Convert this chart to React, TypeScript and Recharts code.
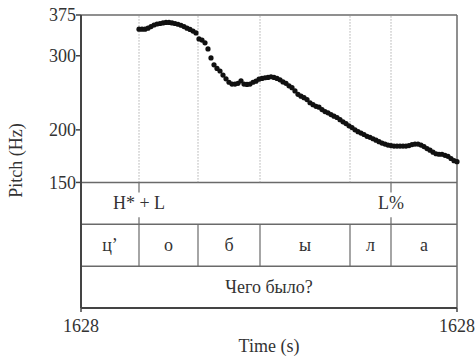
import React from 'react';
import { ComposedChart, Scatter, XAxis, YAxis, ReferenceLine, Label } from 'recharts';

// pitch track: frames every 7.5 ms, first voiced frame at 0.145 s
const pitchStart = 0.145;
const pitchStep = 0.0075;
const pitchHz = [
  347, 347, 347, 349, 352, 355, 357, 358, 359, 360, 360, 359, 358, 356.5, 354.5, 352, 349, 346.5, 343.5, 340,
  329, 327, 322, 311.5, 296.5, 285.5, 280, 276, 270, 264.5, 259.5, 257, 257, 258, 261.5, 257, 256.5, 257, 259.5, 261,
  264, 265, 266, 266.5, 267.5, 266.5, 265, 263, 260, 258, 254.5, 252, 247.5, 243, 240.5, 238.5, 236, 232, 229.5, 227.5,
  226.5, 223.5, 221, 219.5, 217.5, 215.5, 214, 211.5, 209, 207, 204.5, 202.5, 200, 198, 196.5, 195, 193, 192, 190.5, 189,
  187.5, 186, 185, 184, 183.5, 183, 183, 183, 183, 183, 183.5, 184.5, 185, 185, 184, 182.5, 180.5, 179, 177, 175.5,
  175, 175, 174, 173, 171, 169, 168,
];

const duration = 0.94;
const xTickLabels = ['1628', '1628'];
const pitchTicks = [150, 200, 300, 375];

// segment tier
const segEdges = [0, 0.145, 0.2925, 0.4475, 0.6725, 0.775, 0.94];
const segLabels = ['ц’', 'о', 'б', 'ы', 'л', 'а'];
// tone tier
const toneTimes = [0.145, 0.775];
const toneLabels = ['H* + L', 'L%'];
// word tier
const wordLabel = 'Чего было?';

// tier axis: rows 0-1 words, 1-2 segments, 2-3 tones, 3-7 pitch panel
const PITCH_MIN = 150;
const PITCH_MAX = 375;
const logLow = PITCH_MAX / Math.pow(PITCH_MAX / PITCH_MIN, 7 / 4);

const pitchData = pitchHz.map((v, i) => ({ t: pitchStart + i * pitchStep, v }));

const textData = [
  ...toneTimes.map((t, i) => ({ t, v: 2.5, text: toneLabels[i] })),
  ...segLabels.map((s, i) => ({ t: (segEdges[i] + segEdges[i + 1]) / 2, v: 1.5, text: s })),
  { t: duration / 2, v: 0.5, text: wordLabel },
];

const FONT = '"Liberation Serif", "Times New Roman", serif';
const TEXT = '#333';
const FRAME = '#6a6a6a';

const Dot = (p: any) => <circle cx={p.cx} cy={p.cy} r={2.6} fill="#111" />;

const TierText = (p: any) => (
  <text x={p.cx} y={p.cy} textAnchor="middle" dominantBaseline="central" fontFamily={FONT} fontSize={18} fill={TEXT}>
    {p.payload?.text ?? p.text}
  </text>
);

export default function App() {
  return (
    <div style={{ position: 'absolute', left: 0, top: 0, width: 476, height: 361, background: '#fff' }}>
      <ComposedChart width={476} height={361} margin={{ top: 15, right: 19, left: 21, bottom: 18 }} style={{ overflow: 'visible' }}>
        <XAxis
          dataKey="t"
          type="number"
          domain={[0, duration]}
          ticks={[0, duration]}
          tickFormatter={(_v: number, i: number) => xTickLabels[i]}
          axisLine={{ stroke: '#444', strokeWidth: 2 }}
          tickLine={{ stroke: '#444', strokeWidth: 1.5 }}
          tickSize={4}
          tickMargin={7}
          height={35}
          tick={{ fontFamily: FONT, fontSize: 18, fill: TEXT }}
          label={
            <Label
              content={({ viewBox }: any) => (
                <text x={viewBox.x + viewBox.width / 2} y={viewBox.y + 44} textAnchor="middle" fontFamily={FONT} fontSize={18} fill={TEXT}>
                  Time (s)
                </text>
              )}
            />
          }
        />
        <YAxis
          yAxisId="pitch"
          dataKey="v"
          type="number"
          scale="log"
          domain={[logLow, PITCH_MAX]}
          allowDataOverflow
          ticks={pitchTicks}
          width={60}
          axisLine={{ stroke: '#444', strokeWidth: 2 }}
          tickLine={{ stroke: '#444', strokeWidth: 1.5 }}
          tickSize={5}
          tickMargin={0}
          tick={{ fontFamily: FONT, fontSize: 18, fill: TEXT }}
          label={
            <Label
              content={({ viewBox }: any) => {
                const cx = viewBox.x + 1;
                const cy = 160.5;
                return (
                  <text x={cx} y={cy} transform={`rotate(-90 ${cx} ${cy})`} textAnchor="middle" fontFamily={FONT} fontSize={18} fill={TEXT}>
                    Pitch (Hz)
                  </text>
                );
              }}
            />
          }
        />
        <YAxis yAxisId="tier" dataKey="v" type="number" domain={[0, 7]} allowDataOverflow hide />

        {/* frame */}
        <ReferenceLine yAxisId="tier" y={7} stroke={FRAME} strokeWidth={1.5} />
        <ReferenceLine yAxisId="tier" x={duration} stroke={FRAME} strokeWidth={1.5} />
        {[1, 2, 3].map((y) => (
          <ReferenceLine key={`h${y}`} yAxisId="tier" y={y} stroke={FRAME} strokeWidth={1.5} />
        ))}

        {/* boundaries in pitch panel */}
        {segEdges.slice(1, -1).map((b) => (
          <ReferenceLine
            key={`d${b}`}
            yAxisId="tier"
            segment={[{ x: b, y: 3 }, { x: b, y: 7 }]}
            stroke="#888"
            strokeWidth={1}
            strokeDasharray="1 2"
          />
        ))}
        {/* segment tier boundaries */}
        {segEdges.slice(1, -1).map((b) => (
          <ReferenceLine key={`s${b}`} yAxisId="tier" segment={[{ x: b, y: 1 }, { x: b, y: 2 }]} stroke={FRAME} strokeWidth={1.2} />
        ))}
        {/* tone tier point marks */}
        {toneTimes.map((t) => (
          <ReferenceLine key={`tu${t}`} yAxisId="tier" segment={[{ x: t, y: 2.76 }, { x: t, y: 3 }]} stroke={FRAME} strokeWidth={1.2} />
        ))}
        {toneTimes.map((t) => (
          <ReferenceLine key={`tl${t}`} yAxisId="tier" segment={[{ x: t, y: 2 }, { x: t, y: 2.17 }]} stroke={FRAME} strokeWidth={1.2} />
        ))}

        <Scatter yAxisId="pitch" data={pitchData} dataKey="v" shape={Dot} isAnimationActive={false} />
        <Scatter yAxisId="tier" data={textData} dataKey="v" shape={TierText} isAnimationActive={false} />
      </ComposedChart>
    </div>
  );
}
